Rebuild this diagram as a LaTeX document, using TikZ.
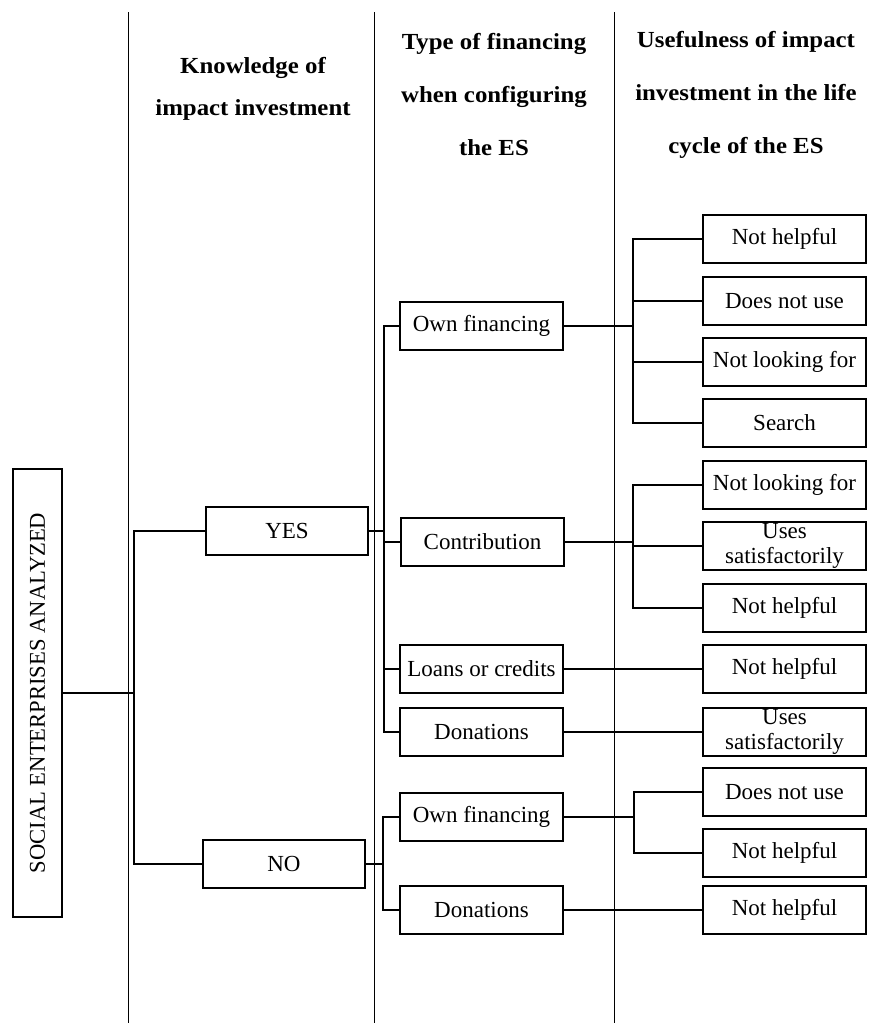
\documentclass[tikz,border=0pt]{standalone}
\usepackage{fontspec}
\setmainfont{Liberation Serif}
\newfontfamily\headfam{Liberation Serif}[FakeStretch=1.08]
\usetikzlibrary{positioning}

\begin{document}
\begin{tikzpicture}[
        x=0.5pt, y=-0.5pt,
        box/.style={
            rectangle,
            draw=black,
            line width=1pt,
            minimum width=81.5pt,
            minimum height=24pt,
            inner sep=0pt,
            align=center,
            font=\fontsize{11.5}{12.5}\selectfont
        },
        rootbox/.style={
            box,
            rotate=90,
            minimum width=224pt,
            minimum height=24.5pt,
            font=\fontsize{11.3}{12}\selectfont
        },
        head/.style={
            align=center,
            font=\headfam\bfseries\fontsize{11.5}{26.5}\selectfont
        },
        link/.style={
            line width=1pt,
            draw=black
        },
        divider/.style={
            line width=0.5pt,
            draw=black
        }
    ]
    \useasboundingbox (0,0) rectangle (876,1023);

    % --- Column headers and dividers ---
    \draw[divider] (128,12) -- (128,1023);
    \draw[divider] (374,12) -- (374,1023);
    \draw[divider] (614,12) -- (614,1023);

    \node[head, font=\headfam\bfseries\fontsize{11.5}{21}\selectfont] (h1) at (253, 89) {Knowledge of\\impact investment};
    \node[head] (h2) at (494, 95) {Type of financing\\when configuring\\the ES};
    \node[head] (h3) at (746, 95) {Usefulness of impact\\investment in the life\\cycle of the ES};

    % --- Level 1: knowledge ---
    \node[rootbox] (root) at (37.5, 693) {SOCIAL ENTERPRISES ANALYZED};
    \node[box, minimum width=81pt] (yes) at (287, 531) {YES};
    \node[box, minimum width=81pt] (no) at (284, 864) {NO};

    % --- Level 2: type of financing ---
    \node[box] (yown) at (481.5, 326) {Own financing};
    \node[box] (ycontr) at (482.5, 542) {Contribution};
    \node[box] (yloans) at (481.5, 669) {Loans or credits};
    \node[box] (ydon) at (481.5, 731.5) {Donations};
    \node[box] (nown) at (481.5, 817) {Own financing};
    \node[box] (ndon) at (481.5, 910) {Donations};

    % --- Level 3: usefulness ---
    \node[box] (u1) at (784.5, 239) {Not helpful};
    \node[box] (u2) at (784.5, 301) {Does not use};
    \node[box] (u3) at (784.5, 362) {Not looking for};
    \node[box] (u4) at (784.5, 423) {Search};
    \node[box] (u5) at (784.5, 484.5) {Not looking for};
    \node[box] (u6) at (784.5, 546) {Uses\\satisfactorily};
    \node[box] (u7) at (784.5, 607.5) {Not helpful};
    \node[box] (u8) at (784.5, 669) {Not helpful};
    \node[box] (u9) at (784.5, 731.5) {Uses\\satisfactorily};
    \node[box] (u10) at (784.5, 792) {Does not use};
    \node[box] (u11) at (784.5, 853) {Not helpful};
    \node[box] (u12) at (784.5, 910) {Not helpful};

    % Junctions
    \coordinate (j0) at (134, 693);
    \coordinate (j1) at (384, 531);
    \coordinate (j2) at (633, 326);
    \coordinate (j3) at (633, 542);
    \coordinate (j4) at (383, 864);
    \coordinate (j5) at (634, 817);

    % Connectors
    \draw[link] (root) -- (j0);
    \draw[link] (j0) |- (yes);
    \draw[link] (j0) |- (no);

    \draw[link] (yes) -- (j1);
    \foreach \n in {yown, ycontr, yloans, ydon}
        \draw[link] (j1) |- (\n);

    \draw[link] (no) -- (j4);
    \foreach \n in {nown, ndon}
        \draw[link] (j4) |- (\n);

    \draw[link] (yown) -- (j2);
    \foreach \n in {u1, u2, u3, u4}
        \draw[link] (j2) |- (\n);

    \draw[link] (ycontr) -- (j3);
    \foreach \n in {u5, u6, u7}
        \draw[link] (j3) |- (\n);

    \draw[link] (yloans) -- (u8);
    \draw[link] (ydon) -- (u9);

    \draw[link] (nown) -- (j5);
    \foreach \n in {u10, u11}
        \draw[link] (j5) |- (\n);

    \draw[link] (ndon) -- (u12);

\end{tikzpicture}
\end{document}
